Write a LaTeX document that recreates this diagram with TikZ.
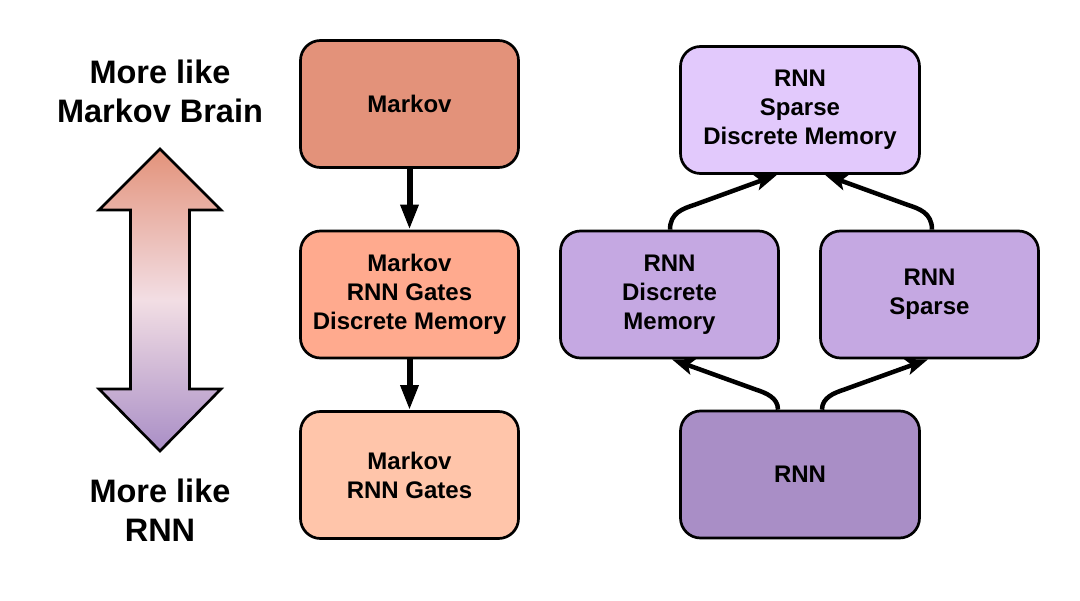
\documentclass[tikz,border=0pt]{standalone}
\usepackage{fontspec}
\setmainfont{Liberation Sans}
\usetikzlibrary{arrows.meta}
\definecolor{cmk}{HTML}{E3927A}
\definecolor{cmgd}{HTML}{FFAA8E}
\definecolor{cmg}{HTML}{FFC5AA}
\definecolor{crsd}{HTML}{E2C9FC}
\definecolor{crd}{HTML}{C5A8E2}
\definecolor{crnn}{HTML}{A98EC6}
\definecolor{cmid}{HTML}{F2DEE4}
\tikzset{
  box/.style={draw=black, line width=2.7pt, rounded corners=20pt, align=center,
    minimum height=127pt, inner sep=0pt,
    font=\fontsize{24}{29}\selectfont\bfseries},
  narrowbox/.style={box, minimum width=218pt},
  widebox/.style={box, minimum width=239pt},
  vlink/.style={line width=6pt, -{Triangle[length=25pt,width=17pt]}},
  clink/.style={line width=4.5pt, -{Stealth[length=22pt,width=16pt,inset=5pt]}},
  sidelabel/.style={align=center, inner sep=0pt, font=\fontsize{32.5}{39}\selectfont\bfseries}
}
\begin{document}
\begin{tikzpicture}[x=1pt,y=-1pt]
\useasboundingbox (0,0) rectangle (1080,601);
% side labels
\node[sidelabel] (top) at (160,91) {More like\\Markov Brain};
\node[sidelabel] (bot) at (160,510) {More like\\RNN};
% double arrow
\shadedraw[line width=2.7pt, line join=miter, top color=cmk, bottom color=crnn, middle color=cmid]
  (160,149) -- (221,210) -- (189.5,210) -- (189.5,389) -- (221,389) -- (160,451)
  -- (99,389) -- (130.5,389) -- (130.5,210) -- (99,210) -- cycle;
% left column
\node[narrowbox, fill=cmk] (mk) at (409.5,104) {Markov};
\node[narrowbox, fill=cmgd] (mgd) at (409.5,294.5) {Markov\\RNN Gates\\Discrete Memory};
\node[narrowbox, fill=cmg] (mg) at (409.5,475) {Markov\\RNN Gates};
\draw[vlink] (mk.south) -- (mgd.north);
\draw[vlink] (mgd.south) -- (mg.north);
% right group
\node[widebox, fill=crsd] (rsd) at (800,110) {RNN\\Sparse\\Discrete Memory};
\node[narrowbox, fill=crd] (rd) at (669.5,294.5) {RNN\\Discrete\\Memory};
\node[narrowbox, fill=crd] (rs) at (929.5,294.5) {RNN\\Sparse};
\node[widebox, fill=crnn] (rnn) at (800,474.5) {RNN};
\draw[clink] ([xshift=0.5pt]rd.north) .. controls +(0,-17) and +(-12,4) .. ++(25,-25) -- ([xshift=-23pt]rsd.south);
\draw[clink] ([xshift=2.5pt]rs.north) .. controls +(0,-17) and +(12,4) .. ++(-25,-25) -- ([xshift=25pt]rsd.south);
\draw[clink] ([xshift=-22pt]rnn.north) .. controls +(0,-12) and +(10,3.3) .. ++(-22,-20) -- ([xshift=2.5pt]rd.south);
\draw[clink] ([xshift=22pt]rnn.north) .. controls +(0,-12) and +(-10,3.3) .. ++(22,-20) -- ([xshift=-1.5pt]rs.south);
\end{tikzpicture}
\end{document}
